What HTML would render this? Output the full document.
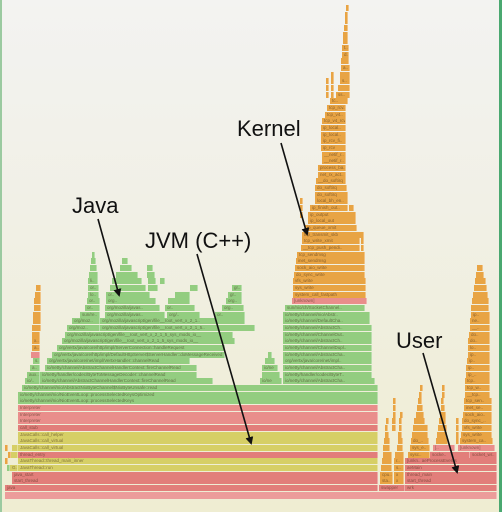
<!DOCTYPE html>
<html><head><meta charset="utf-8"><style>
html,body{margin:0;padding:0}
body{width:502px;height:512px;overflow:hidden;position:relative;background:linear-gradient(#f3f3f1 0%,#f1f0e6 40%,#efedd2 100%);font-family:"Liberation Sans",sans-serif}
.fr{position:absolute;left:0;top:0;width:502px;height:512px;box-sizing:border-box;border-left:2px solid #9bcaa0;border-right:3px solid #4aa870}
i{position:absolute;height:6px;display:block;font-style:normal;font-size:4.5px;line-height:6px;color:rgba(60,40,20,.55);overflow:hidden;white-space:nowrap;padding-left:2px;box-sizing:border-box;border-right:1px solid rgba(255,255,255,.35)}
.g{background:#93cd80}.o{background:#e8a444}.r{background:#e27e7a}.p{background:#e98e8b}.y{background:#d6cf66}
.t{position:absolute;font-size:22px;color:#111;line-height:1}
</style></head><body>
<div class="fr"></div>
<i class="p" style="left:5px;top:492px;width:492px;height:7px;background:#ec9c9a"></i>
<i class="r" style="left:5px;top:485px;width:373px">java</i>
<i class="r" style="left:379px;top:485px;width:26px">swapper</i>
<i class="r" style="left:405px;top:485px;width:92px">wrk</i>
<i class="r" style="left:12px;top:478px;width:366px">start_thread</i>
<i class="o" style="left:380px;top:478px;width:13px">sta..</i>
<i class="o" style="left:394px;top:478px;width:10px">x</i>
<i class="r" style="left:405px;top:478px;width:92px">start_thread</i>
<i class="r" style="left:12px;top:472px;width:366px">java_start</i>
<i class="o" style="left:380px;top:472px;width:13px">cpu..</i>
<i class="o" style="left:394px;top:472px;width:10px">x</i>
<i class="r" style="left:405px;top:472px;width:92px">thread_main</i>
<i class="g" style="left:7px;top:465px;width:3px"></i>
<i class="y" style="left:10px;top:465px;width:8px">G..</i>
<i class="y" style="left:18px;top:465px;width:360px">JavaThread::run</i>
<i class="o" style="left:381px;top:465px;width:11px"></i>
<i class="o" style="left:394px;top:465px;width:10px">s..</i>
<i class="r" style="left:405px;top:465px;width:92px">aeMain</i>
<i class="o" style="left:5px;top:458px;width:3px"></i>
<i class="y" style="left:18px;top:458px;width:360px">JavaThread::thread_main_inner</i>
<i class="o" style="left:382px;top:458px;width:10px"></i>
<i class="o" style="left:394px;top:458px;width:10px">r..</i>
<i class="r" style="left:405px;top:458px;width:92px">[unkn.. aeProcessEvents</i>
<i class="y" style="left:10px;top:452px;width:8px"></i>
<i class="r" style="left:18px;top:452px;width:360px">thread_entry</i>
<i class="o" style="left:383px;top:452px;width:9px"></i>
<i class="o" style="left:395px;top:452px;width:9px"></i>
<i class="o" style="left:408px;top:452px;width:22px">sysc..</i>
<i class="r" style="left:430px;top:452px;width:40px">socke..</i>
<i class="r" style="left:470px;top:452px;width:27px">socket_wr..</i>
<i class="y" style="left:12px;top:445px;width:6px"></i>
<i class="y" style="left:18px;top:445px;width:360px">JavaCalls::call_virtual</i>
<i class="o" style="left:383px;top:445px;width:7px"></i>
<i class="o" style="left:397px;top:445px;width:6px"></i>
<i class="o" style="left:410px;top:445px;width:20px">sys_e..</i>
<i class="p" style="left:433px;top:445px;width:22px">[..</i>
<i class="p" style="left:458px;top:445px;width:37px">[unknown]</i>
<i class="y" style="left:18px;top:438px;width:360px">JavaCalls::call_virtual</i>
<i class="o" style="left:384px;top:438px;width:6px"></i>
<i class="o" style="left:398px;top:438px;width:5px"></i>
<i class="o" style="left:411px;top:438px;width:18px">do_..</i>
<i class="o" style="left:436px;top:438px;width:12px"></i>
<i class="o" style="left:460px;top:438px;width:33px">system_ca..</i>
<i class="y" style="left:18px;top:432px;width:360px">JavaCalls::call_helper</i>
<i class="o" style="left:385px;top:432px;width:4px"></i>
<i class="o" style="left:398px;top:432px;width:4px"></i>
<i class="o" style="left:412px;top:432px;width:16px"></i>
<i class="o" style="left:437px;top:432px;width:10px"></i>
<i class="o" style="left:461px;top:432px;width:31px">sys_write</i>
<i class="r" style="left:18px;top:425px;width:360px">call_stub</i>
<i class="o" style="left:385px;top:425px;width:3px"></i>
<i class="o" style="left:392px;top:425px;width:4px"></i>
<i class="o" style="left:399px;top:425px;width:3px"></i>
<i class="o" style="left:413px;top:425px;width:13px"></i>
<i class="o" style="left:438px;top:425px;width:9px"></i>
<i class="o" style="left:462px;top:425px;width:30px">vfs_write</i>
<i class="p" style="left:18px;top:418px;width:360px">Interpreter</i>
<i class="o" style="left:386px;top:418px;width:2px"></i>
<i class="o" style="left:392px;top:418px;width:4px"></i>
<i class="o" style="left:399px;top:418px;width:3px"></i>
<i class="o" style="left:414px;top:418px;width:11px"></i>
<i class="o" style="left:439px;top:418px;width:7px"></i>
<i class="o" style="left:462px;top:418px;width:30px">do_sync_..</i>
<i class="p" style="left:18px;top:412px;width:360px">Interpreter</i>
<i class="o" style="left:393px;top:412px;width:3px"></i>
<i class="o" style="left:400px;top:412px;width:2px"></i>
<i class="o" style="left:416px;top:412px;width:8px"></i>
<i class="o" style="left:440px;top:412px;width:6px"></i>
<i class="o" style="left:463px;top:412px;width:29px">sock_aio..</i>
<i class="p" style="left:18px;top:405px;width:360px">Interpreter</i>
<i class="o" style="left:393px;top:405px;width:2px"></i>
<i class="o" style="left:417px;top:405px;width:6px"></i>
<i class="o" style="left:441px;top:405px;width:4px"></i>
<i class="o" style="left:464px;top:405px;width:28px">inet_se..</i>
<i class="g" style="left:18px;top:398px;width:360px">io/netty/channel/nio/NioEventLoop::processSelectedKeys</i>
<i class="o" style="left:393px;top:398px;width:2px"></i>
<i class="o" style="left:418px;top:398px;width:4px"></i>
<i class="o" style="left:441px;top:398px;width:3px"></i>
<i class="o" style="left:464px;top:398px;width:28px">tcp_sen..</i>
<i class="g" style="left:18px;top:392px;width:360px">io/netty/channel/nio/NioEventLoop::processSelectedKeysOptimized</i>
<i class="o" style="left:419px;top:392px;width:3px"></i>
<i class="o" style="left:442px;top:392px;width:2px"></i>
<i class="o" style="left:465px;top:392px;width:25px">__tcp..</i>
<i class="g" style="left:22px;top:385px;width:356px">io/netty/channel/nio/AbstractNioByteChannel$NioByteUnsafe::read</i>
<i class="o" style="left:420px;top:385px;width:2px"></i>
<i class="o" style="left:442px;top:385px;width:2px"></i>
<i class="o" style="left:465px;top:385px;width:25px">tcp_w..</i>
<i class="g" style="left:25px;top:378px;width:15px">io/..</i>
<i class="g" style="left:40px;top:378px;width:173px">io/netty/channel/AbstractChannelHandlerContext::fireChannelRead</i>
<i class="g" style="left:260px;top:378px;width:22px">io/ne</i>
<i class="g" style="left:283px;top:378px;width:92px">io/netty/channel/AbstractCha..</i>
<i class="o" style="left:465px;top:378px;width:25px">tcp..</i>
<i class="g" style="left:27px;top:372px;width:13px">aux..</i>
<i class="g" style="left:40px;top:372px;width:157px">io/netty/handler/codec/ByteToMessageDecoder::channelRead</i>
<i class="g" style="left:262px;top:372px;width:18px"></i>
<i class="g" style="left:283px;top:372px;width:89px">io/netty/handler/codec/ByteT..</i>
<i class="o" style="left:466px;top:372px;width:24px">ip_..</i>
<i class="g" style="left:30px;top:365px;width:10px">a..</i>
<i class="g" style="left:45px;top:365px;width:152px">io/netty/channel/AbstractChannelHandlerContext::fireChannelRead</i>
<i class="g" style="left:262px;top:365px;width:16px">io/ne</i>
<i class="g" style="left:283px;top:365px;width:89px">io/netty/channel/AbstractCha..</i>
<i class="o" style="left:466px;top:365px;width:24px">ip..</i>
<i class="g" style="left:33px;top:358px;width:7px">s..</i>
<i class="g" style="left:47px;top:358px;width:143px">org/vertx/java/core/net/impl/VertxHandler::channelRead</i>
<i class="g" style="left:265px;top:358px;width:10px"></i>
<i class="g" style="left:283px;top:358px;width:89px">org/vertx/java/core/net/impl..</i>
<i class="o" style="left:467px;top:358px;width:23px">ip..</i>
<i class="p" style="left:31px;top:352px;width:9px"></i>
<i class="g" style="left:52px;top:352px;width:173px">org/vertx/java/core/http/impl/DefaultHttpServer$ServerHandler::doMessageReceived</i>
<i class="g" style="left:268px;top:352px;width:4px"></i>
<i class="g" style="left:283px;top:352px;width:89px">io/netty/channel/AbstractCha..</i>
<i class="o" style="left:468px;top:352px;width:22px">ip..</i>
<i class="o" style="left:32px;top:345px;width:8px">a..</i>
<i class="g" style="left:57px;top:345px;width:168px">org/vertx/java/core/http/impl/ServerConnection::handleRequest</i>
<i class="g" style="left:283px;top:345px;width:89px">io/netty/channel/ChannelDupl..</i>
<i class="o" style="left:468px;top:345px;width:22px">lo..</i>
<i class="o" style="left:32px;top:338px;width:8px">x..</i>
<i class="g" style="left:62px;top:338px;width:173px">org/mozilla/javascript/gen/file__root_vert_x_2_1_5_sys_mods_io__</i>
<i class="g" style="left:283px;top:338px;width:89px">io/netty/channel/AbstractCh..</i>
<i class="o" style="left:468px;top:338px;width:22px">do..</i>
<i class="o" style="left:32px;top:332px;width:8px"></i>
<i class="g" style="left:65px;top:332px;width:168px">org/mozilla/javascript/gen/file__root_vert_x_2_1_5_sys_mods_io__</i>
<i class="g" style="left:283px;top:332px;width:89px">io/netty/channel/ChannelOut..</i>
<i class="o" style="left:469px;top:332px;width:21px">do..</i>
<i class="o" style="left:32px;top:325px;width:9px"></i>
<i class="g" style="left:67px;top:325px;width:33px">org/moz..</i>
<i class="g" style="left:100px;top:325px;width:155px">org/mozilla/javascript/gen/file__root_vert_x_2_1_5..</i>
<i class="g" style="left:283px;top:325px;width:89px">io/netty/channel/AbstractCh..</i>
<i class="o" style="left:470px;top:325px;width:20px">__..</i>
<i class="o" style="left:33px;top:318px;width:8px"></i>
<i class="g" style="left:72px;top:318px;width:28px">org/moz..</i>
<i class="g" style="left:100px;top:318px;width:145px">org/mozilla/javascript/gen/file__root_vert_x_2_1..</i>
<i class="g" style="left:283px;top:318px;width:87px">io/netty/channel/DefaultCha..</i>
<i class="o" style="left:470px;top:318px;width:20px">ne..</i>
<i class="o" style="left:33px;top:312px;width:8px"></i>
<i class="g" style="left:80px;top:312px;width:20px">sun/re..</i>
<i class="g" style="left:105px;top:312px;width:60px">org/mozilla/javas..</i>
<i class="g" style="left:167px;top:312px;width:33px">org/..</i>
<i class="g" style="left:215px;top:312px;width:30px">or..</i>
<i class="g" style="left:283px;top:312px;width:87px">io/netty/channel/nio/Abstr..</i>
<i class="o" style="left:471px;top:312px;width:19px">ip..</i>
<i class="o" style="left:34px;top:305px;width:7px"></i>
<i class="g" style="left:85px;top:305px;width:15px">or..</i>
<i class="g" style="left:105px;top:305px;width:55px">org/mozilla/javas..</i>
<i class="g" style="left:165px;top:305px;width:30px">or..</i>
<i class="g" style="left:222px;top:305px;width:22px">org..</i>
<i class="g" style="left:285px;top:305px;width:80px">sun/nio/ch/SocketChannel..</i>
<i class="o" style="left:471px;top:305px;width:18px"></i>
<i class="o" style="left:34px;top:298px;width:7px"></i>
<i class="g" style="left:87px;top:298px;width:13px">or..</i>
<i class="g" style="left:106px;top:298px;width:50px">org..</i>
<i class="g" style="left:168px;top:298px;width:22px"></i>
<i class="g" style="left:226px;top:298px;width:16px">org..</i>
<i class="p" style="left:292px;top:298px;width:75px">[unknown]</i>
<i class="o" style="left:472px;top:298px;width:17px"></i>
<i class="o" style="left:35px;top:292px;width:6px"></i>
<i class="g" style="left:88px;top:292px;width:11px">lo..</i>
<i class="g" style="left:106px;top:292px;width:44px">or..</i>
<i class="g" style="left:175px;top:292px;width:15px"></i>
<i class="g" style="left:228px;top:292px;width:14px">gr..</i>
<i class="o" style="left:473px;top:292px;width:15px"></i>
<i class="o" style="left:36px;top:285px;width:5px"></i>
<i class="g" style="left:88px;top:285px;width:11px">or..</i>
<i class="g" style="left:110px;top:285px;width:36px"></i>
<i class="g" style="left:148px;top:285px;width:10px"></i>
<i class="g" style="left:190px;top:285px;width:8px"></i>
<i class="g" style="left:232px;top:285px;width:10px">gr..</i>
<i class="o" style="left:474px;top:285px;width:13px"></i>
<i class="g" style="left:88px;top:278px;width:10px">li..</i>
<i class="g" style="left:112px;top:278px;width:30px"></i>
<i class="g" style="left:148px;top:278px;width:8px"></i>
<i class="g" style="left:160px;top:278px;width:5px"></i>
<i class="o" style="left:475px;top:278px;width:11px"></i>
<i class="g" style="left:89px;top:272px;width:9px"></i>
<i class="g" style="left:116px;top:272px;width:22px"></i>
<i class="g" style="left:147px;top:272px;width:8px"></i>
<i class="o" style="left:476px;top:272px;width:8px"></i>
<i class="g" style="left:90px;top:265px;width:7px"></i>
<i class="g" style="left:120px;top:265px;width:12px"></i>
<i class="g" style="left:147px;top:265px;width:6px"></i>
<i class="o" style="left:477px;top:265px;width:6px"></i>
<i class="g" style="left:91px;top:258px;width:5px"></i>
<i class="g" style="left:122px;top:258px;width:6px"></i>
<i class="g" style="left:92px;top:252px;width:3px"></i>
<i class="o" style="left:293px;top:292px;width:73px">system_call_fastpath</i>
<i class="o" style="left:293px;top:285px;width:73px">sys_write</i>
<i class="o" style="left:293px;top:278px;width:73px">vfs_write</i>
<i class="o" style="left:294px;top:272px;width:71px">do_sync_write</i>
<i class="o" style="left:295px;top:265px;width:70px">sock_aio_write</i>
<i class="o" style="left:296px;top:258px;width:69px">inet_sendmsg</i>
<i class="o" style="left:297px;top:252px;width:68px">tcp_sendmsg</i>
<i class="o" style="left:301px;top:245px;width:59px">__tcp_push_pendi..</i>
<i class="o" style="left:361px;top:245px;width:3px"></i>
<i class="o" style="left:302px;top:238px;width:58px">tcp_write_xmit</i>
<i class="o" style="left:361px;top:238px;width:3px"></i>
<i class="o" style="left:302px;top:232px;width:62px">tcp_transmit_skb</i>
<i class="o" style="left:305px;top:225px;width:52px">ip_queue_xmit</i>
<i class="o" style="left:308px;top:218px;width:48px">ip_local_out</i>
<i class="o" style="left:308px;top:212px;width:48px">ip_output</i>
<i class="o" style="left:310px;top:205px;width:38px">ip_finish_out..</i>
<i class="o" style="left:349px;top:205px;width:5px"></i>
<i class="o" style="left:315px;top:198px;width:33px">local_bh_en..</i>
<i class="o" style="left:300px;top:198px;width:3px"></i>
<i class="o" style="left:300px;top:205px;width:3px"></i>
<i class="o" style="left:300px;top:212px;width:3px"></i>
<i class="o" style="left:315px;top:192px;width:33px">do_softirq</i>
<i class="o" style="left:315px;top:185px;width:32px">do_softirq</i>
<i class="o" style="left:316px;top:178px;width:30px">__do_softirq</i>
<i class="o" style="left:318px;top:172px;width:28px">net_rx_act..</i>
<i class="o" style="left:318px;top:165px;width:28px">process_ba..</i>
<i class="o" style="left:322px;top:158px;width:24px">__netif_r..</i>
<i class="o" style="left:322px;top:152px;width:24px">__netif_r..</i>
<i class="o" style="left:321px;top:145px;width:25px">ip_rcv</i>
<i class="o" style="left:321px;top:138px;width:25px">ip_rcv_fi..</i>
<i class="o" style="left:321px;top:132px;width:25px">ip_local..</i>
<i class="o" style="left:321px;top:125px;width:25px">ip_local..</i>
<i class="o" style="left:322px;top:118px;width:24px">tcp_v4_rcv</i>
<i class="o" style="left:325px;top:112px;width:21px">tcp_v4..</i>
<i class="o" style="left:327px;top:105px;width:19px">tcp_rcv..</i>
<i class="o" style="left:330px;top:98px;width:18px">tc..</i>
<i class="o" style="left:326px;top:92px;width:3px"></i>
<i class="o" style="left:331px;top:92px;width:3px"></i>
<i class="o" style="left:336px;top:92px;width:14px">ss..</i>
<i class="o" style="left:326px;top:85px;width:3px"></i>
<i class="o" style="left:331px;top:85px;width:3px"></i>
<i class="o" style="left:338px;top:85px;width:12px"></i>
<i class="o" style="left:326px;top:78px;width:3px"></i>
<i class="o" style="left:331px;top:78px;width:3px"></i>
<i class="o" style="left:340px;top:78px;width:10px">s..</i>
<i class="o" style="left:331px;top:72px;width:3px"></i>
<i class="o" style="left:340px;top:72px;width:10px"></i>
<i class="o" style="left:341px;top:65px;width:9px">a..</i>
<i class="o" style="left:341px;top:58px;width:8px"></i>
<i class="o" style="left:342px;top:52px;width:7px">d..</i>
<i class="o" style="left:342px;top:45px;width:7px">t..</i>
<i class="o" style="left:343px;top:38px;width:5px"></i>
<i class="o" style="left:343px;top:32px;width:5px"></i>
<i class="o" style="left:344px;top:25px;width:4px"></i>
<i class="o" style="left:345px;top:18px;width:3px"></i>
<i class="o" style="left:345px;top:12px;width:2px"></i>
<i class="o" style="left:346px;top:5px;width:2px"></i>
<i class="o" style="left:425px;top:425px;width:3px"></i>
<i class="o" style="left:456px;top:438px;width:3px"></i>
<i class="o" style="left:456px;top:432px;width:3px"></i>
<i class="o" style="left:456px;top:425px;width:3px"></i>
<i class="o" style="left:456px;top:418px;width:2px"></i>
<i class="o" style="left:5px;top:445px;width:2px"></i>
<i class="o" style="left:8px;top:452px;width:2px"></i>
<div class="t" style="left:237px;top:118px">Kernel</div>
<div class="t" style="left:72px;top:195px">Java</div>
<div class="t" style="left:145px;top:230px">JVM (C++)</div>
<div class="t" style="left:396px;top:330px">User</div>
<svg width="502" height="512" style="position:absolute;left:0;top:0">
<defs><marker id="a" markerWidth="8" markerHeight="8" refX="6" refY="4" orient="auto" markerUnits="userSpaceOnUse"><path d="M0,0 L8,4 L0,8 z" fill="#111"/></marker></defs>
<g stroke="#111" stroke-width="1.6" fill="none" marker-end="url(#a)">
<line x1="281" y1="143" x2="307" y2="234"/>
<line x1="98" y1="219" x2="119" y2="295"/>
<line x1="197" y1="254" x2="251" y2="443"/>
<line x1="423" y1="353" x2="457" y2="472"/>
</g></svg>
</body></html>
